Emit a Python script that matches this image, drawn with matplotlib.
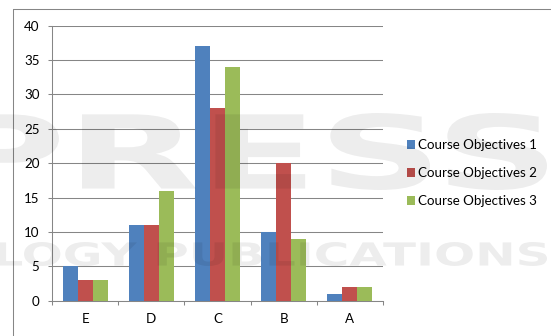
import matplotlib
matplotlib.use("Agg")
import matplotlib.pyplot as plt
import numpy as np
from matplotlib.patches import Rectangle, PathPatch
from matplotlib.textpath import TextPath
from matplotlib.font_manager import FontProperties
from matplotlib.transforms import Affine2D

plt.rcParams['font.family'] = ['Lato', 'DejaVu Sans']

# data
categories = ['E', 'D', 'C', 'B', 'A']
series_names = ['Course Objectives 1', 'Course Objectives 2', 'Course Objectives 3']
objectives_1 = [5, 11, 37, 10, 1]
objectives_2 = [3, 11, 28, 20, 2]
objectives_3 = [3, 16, 34, 9, 2]
y_ticks = [0, 5, 10, 15, 20, 25, 30, 35, 40]

colors = ['#4F81BD', '#C0504D', '#9BBB59']
grid_color = '#868686'

W, H = 551, 336
fig = plt.figure(figsize=(W / 100, H / 100), dpi=100, facecolor='white')

# plot area (pixel positions)
left, right, top, bottom = 52, 383, 25.7, 300.7
ax = fig.add_axes([left / W, (H - bottom) / H, (right - left) / W, (bottom - top) / H])

x = np.arange(len(categories))
w = 0.227
for i, (vals, col, name) in enumerate(zip([objectives_1, objectives_2, objectives_3], colors, series_names)):
    ax.bar(x + (i - 1) * w, vals, w, color=col, label=name, zorder=3)

ax.set_xlim(-0.5, len(categories) - 0.5)
ax.set_ylim(0, 40)
ax.set_yticks(y_ticks)
ax.yaxis.grid(True, color=grid_color, lw=0.75)
ax.set_axisbelow(True)

for s in ['top', 'right']:
    ax.spines[s].set_visible(False)
for s in ['left', 'bottom']:
    ax.spines[s].set_color(grid_color)
    ax.spines[s].set_linewidth(0.75)

fs = 9.6
ax.set_xticks(x)
ax.set_xticklabels(categories)
ax.set_xticks(np.arange(len(categories) + 1) - 0.5, minor=True)
ax.tick_params(axis='x', which='major', length=0, pad=9, labelsize=fs)
ax.tick_params(axis='x', which='minor', length=3, width=0.75, color=grid_color)
ax.tick_params(axis='y', length=3, width=0.75, color=grid_color, pad=6, labelsize=fs)

fig.legend(loc='center left', bbox_to_anchor=(407 / W, (H - 173) / H), frameon=False,
           borderpad=0, borderaxespad=0, handlelength=0.62, handleheight=0.62,
           handletextpad=0.2, labelspacing=1.2, fontsize=fs)

# overlay in pixel coordinates: chart border and faint publisher watermark
ov = fig.add_axes([0, 0, 1, 1], zorder=10)
ov.set_xlim(0, W)
ov.set_ylim(H, 0)
ov.axis('off')
ov.patch.set_alpha(0)
ov.add_patch(Rectangle((12.5, 8.5), 600, 400, fill=False, ec=grid_color, lw=0.75))


def watermark(s, x0, x1, y0, y1):
    tp = TextPath((0, 0), s, size=100, prop=FontProperties(family='DejaVu Sans', weight='bold'))
    ext = tp.get_extents()
    tr = Affine2D().translate(-ext.x0, -ext.y1).scale((x1 - x0) / ext.width, -(y1 - y0) / ext.height).translate(x0, y0)
    ov.add_patch(PathPatch(tr.transform_path(tp), fc='black', ec='none', alpha=0.07))


watermark('PRESS', -45, 547, 113, 190)
watermark('LOGY PUBLICATIONS', -3, 547, 242, 266)

fig.savefig('out.png', dpi=100, facecolor='white')
